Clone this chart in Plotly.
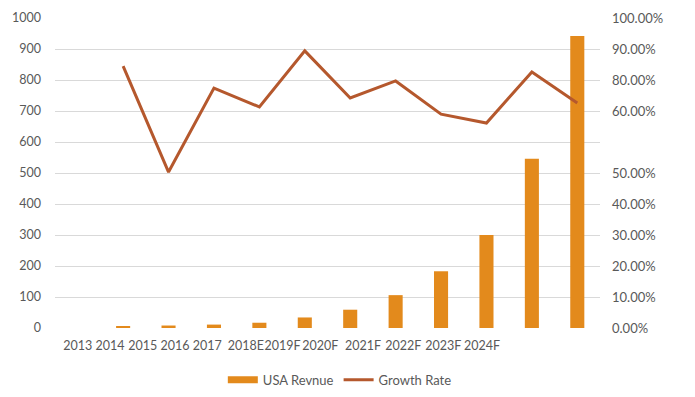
import plotly.graph_objects as go

# ---- data ----
categories = ["2013", "2014", "2015", "2016", "2017", "2018E", "2019F",
              "2020F", "2021F", "2022F", "2023F", "2024F"]
revenue = [0, 4, 8, 11, 17, 34, 59, 106, 183, 300, 546, 942]
growth_rate = [None, 84.5, 50.3, 77.4, 71.3, 89.4, 74.2, 79.7, 69.0, 66.1, 82.6, 72.6]

x_tick_labels = ["2013", "2014", "2015", "2016", "2017", "2018E", "2019F",
                 "2020F", "2021F", "2022F", "2023F", "2024F"]
left_ticks = [0, 100, 200, 300, 400, 500, 600, 700, 800, 900, 1000]
right_tick_vals = [0, 10, 20, 30, 40, 50, 70, 80, 90, 100]
right_tick_text = ["0.00%", "10.00%", "20.00%", "30.00%", "40.00%", "50.00%",
                   "60.00%", "80.00%", "90.00%", "100.00%"]

# tick label positions (as in the reference image, labels are packed leftwards)
x_tick_pos = [0.0, 0.71, 1.43, 2.14, 2.85, 3.70, 4.51, 5.34, 6.28, 7.17, 8.05, 8.9]

BAR = "#E38A1C"
LINE = "#B5582D"
GRID = "#D9D9D9"
TXT = "#595959"
FONT = "Lato, 'Liberation Sans', sans-serif"

xs = list(range(len(categories)))

fig = go.Figure()
fig.add_trace(go.Bar(
    x=xs, y=revenue, name="USA Revnue", marker=dict(color=BAR, line=dict(width=0)),
    yaxis="y", showlegend=False,
))
# legend-only entry so the bar swatch is a wide rectangle as in the reference
fig.add_trace(go.Scatter(
    x=[None], y=[None], name="USA Revnue", mode="lines",
    line=dict(color=BAR, width=7), yaxis="y", showlegend=True,
))
fig.add_trace(go.Scatter(
    x=xs, y=growth_rate, name="Growth Rate", mode="lines",
    line=dict(color=LINE, width=3), yaxis="y2", connectgaps=False,
))

fig.update_layout(
    width=687, height=389,
    margin=dict(l=47, r=95, t=10, b=69, autoexpand=False),
    paper_bgcolor="white", plot_bgcolor="white",
    font=dict(family=FONT, size=12, color=TXT),
    bargap=0.69,
    showlegend=True,
    legend=dict(orientation="h", xref="container", yref="container",
                x=0.483, xanchor="center", y=0.044, yanchor="middle",
                font=dict(size=13, color=TXT), itemwidth=30,
                traceorder="normal"),
    xaxis=dict(range=[-0.5, 11.5], tickmode="array", tickvals=x_tick_pos,
               ticktext=x_tick_labels, tickangle=0, showgrid=False, zeroline=False,
               showline=False, ticks="outside", ticklen=6, automargin=False,
               tickcolor="rgba(0,0,0,0)", tickfont=dict(size=12.5)),
    yaxis=dict(range=[0, 1000], tickmode="array", tickvals=left_ticks,
               showgrid=True, gridcolor=GRID, gridwidth=1, zeroline=False,
               showline=False, ticklabelstandoff=13, automargin=False,
               tickfont=dict(size=12.5)),
    yaxis2=dict(range=[0, 100], overlaying="y", side="right", tickmode="array",
                tickvals=right_tick_vals, ticktext=right_tick_text,
                showgrid=False, zeroline=False, showline=False,
                ticklabelstandoff=11, automargin=False, tickfont=dict(size=13)),
)

fig.write_html("out.html")
